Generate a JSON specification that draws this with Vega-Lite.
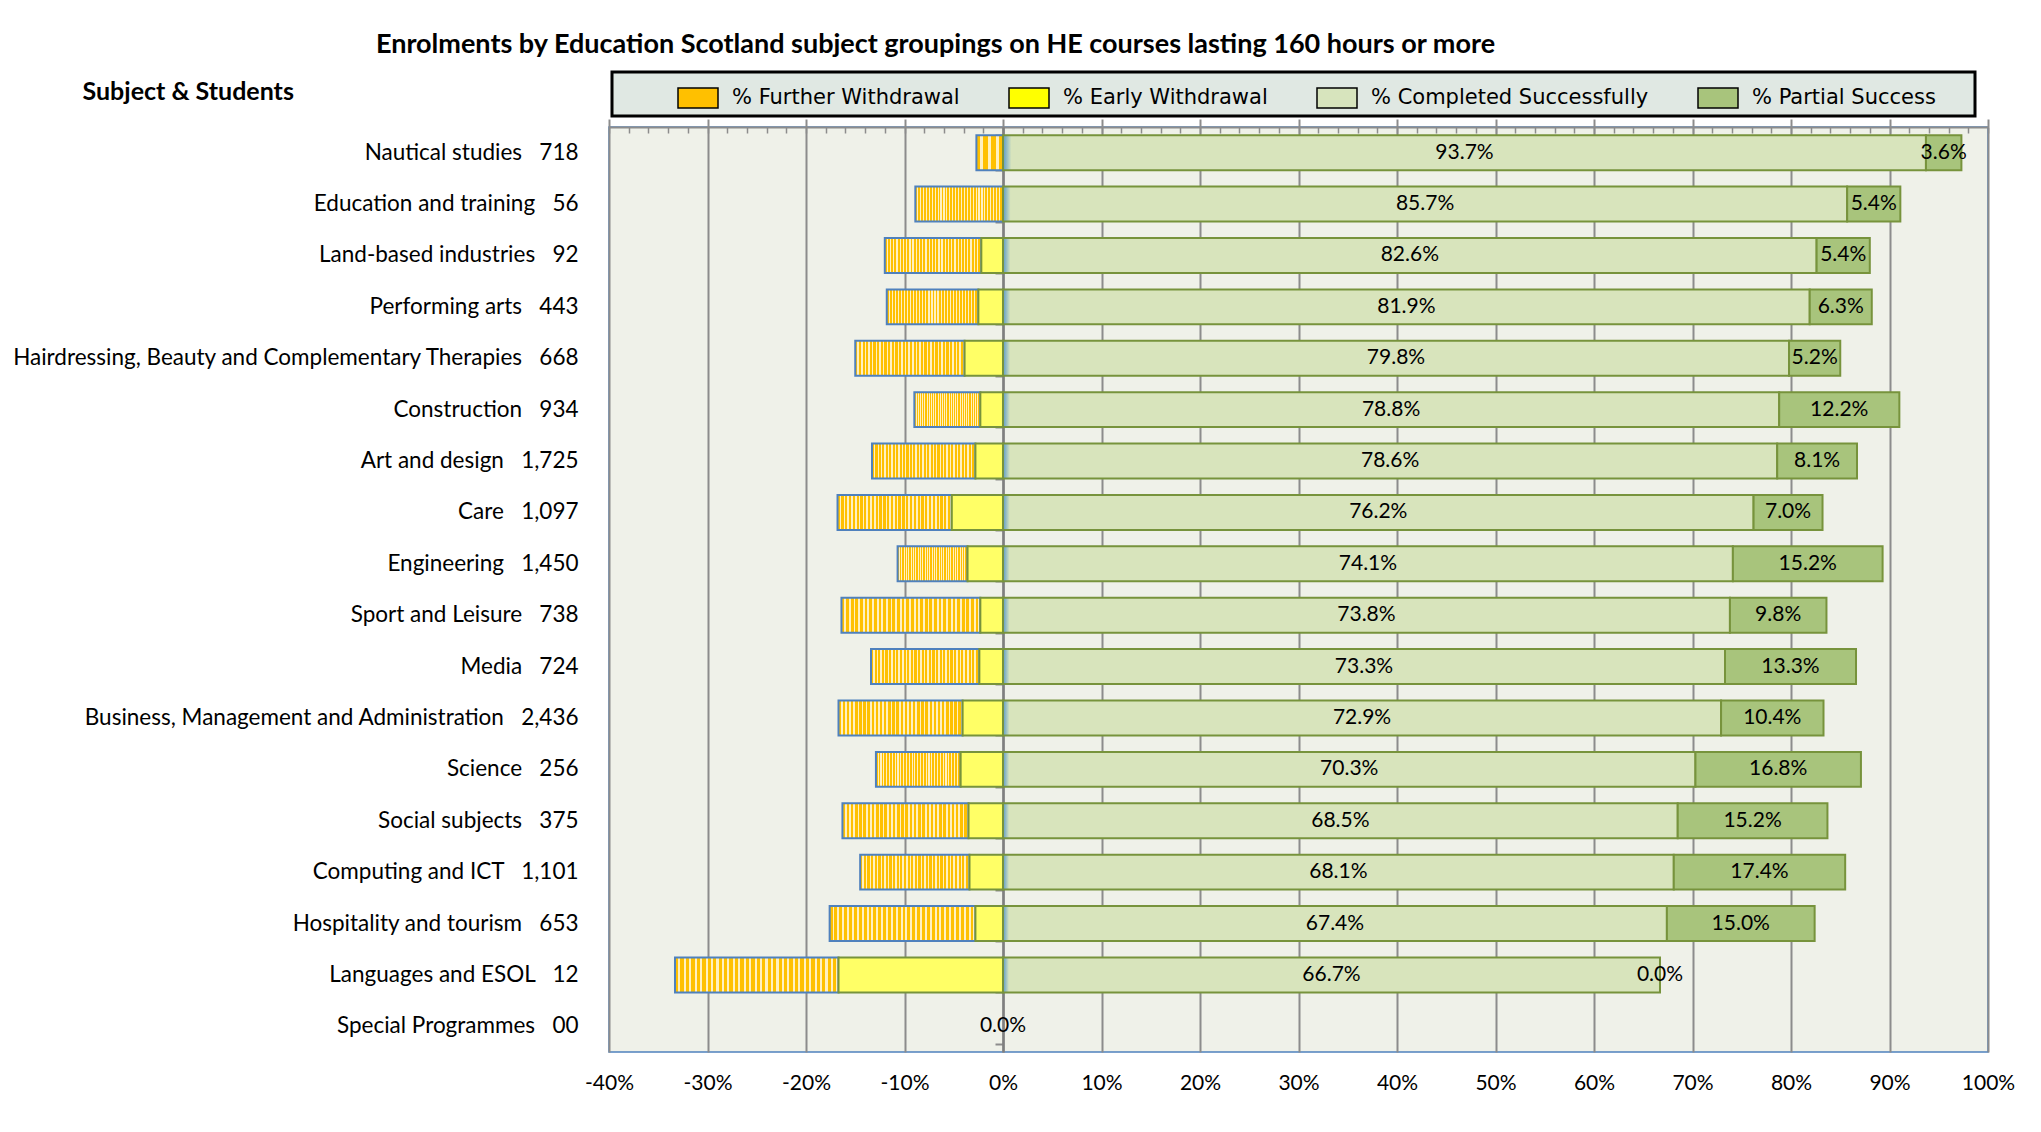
{
  "$schema": "https://vega.github.io/schema/vega-lite/v6.json",
  "autosize": "none",
  "width": 1379,
  "height": 925,
  "padding": {"left": 609, "top": 127, "right": 53, "bottom": 80},
  "background": "#ffffff",
  "config": {
    "font": "Lato",
    "view": {"fill": "#eff1e9", "stroke": "#4f81bd", "strokeWidth": 1.5},
    "legend": {"strokeWidth": 3},
    "axis": {"labelFont": "Lato", "titleFont": "Lato"}
  },
  "data": {
    "values": [
      {"s": "Nautical studies\u00a0\u00a0\u00a0718", "g": "% Further Withdrawal", "v": -2.7},
      {"s": "Nautical studies\u00a0\u00a0\u00a0718", "g": "% Completed Successfully", "v": 93.7},
      {"s": "Nautical studies\u00a0\u00a0\u00a0718", "g": "% Partial Success", "v": 3.6},
      {"s": "Education and training\u00a0\u00a0\u00a056", "g": "% Further Withdrawal", "v": -8.9},
      {"s": "Education and training\u00a0\u00a0\u00a056", "g": "% Completed Successfully", "v": 85.7},
      {"s": "Education and training\u00a0\u00a0\u00a056", "g": "% Partial Success", "v": 5.4},
      {"s": "Land-based industries\u00a0\u00a0\u00a092", "g": "% Further Withdrawal", "v": -9.8},
      {"s": "Land-based industries\u00a0\u00a0\u00a092", "g": "% Early Withdrawal", "v": -2.2},
      {"s": "Land-based industries\u00a0\u00a0\u00a092", "g": "% Completed Successfully", "v": 82.6},
      {"s": "Land-based industries\u00a0\u00a0\u00a092", "g": "% Partial Success", "v": 5.4},
      {"s": "Performing arts\u00a0\u00a0\u00a0443", "g": "% Further Withdrawal", "v": -9.3},
      {"s": "Performing arts\u00a0\u00a0\u00a0443", "g": "% Early Withdrawal", "v": -2.5},
      {"s": "Performing arts\u00a0\u00a0\u00a0443", "g": "% Completed Successfully", "v": 81.9},
      {"s": "Performing arts\u00a0\u00a0\u00a0443", "g": "% Partial Success", "v": 6.3},
      {"s": "Hairdressing, Beauty and Complementary Therapies\u00a0\u00a0\u00a0668", "g": "% Further Withdrawal", "v": -11.1},
      {"s": "Hairdressing, Beauty and Complementary Therapies\u00a0\u00a0\u00a0668", "g": "% Early Withdrawal", "v": -3.9},
      {"s": "Hairdressing, Beauty and Complementary Therapies\u00a0\u00a0\u00a0668", "g": "% Completed Successfully", "v": 79.8},
      {"s": "Hairdressing, Beauty and Complementary Therapies\u00a0\u00a0\u00a0668", "g": "% Partial Success", "v": 5.2},
      {"s": "Construction\u00a0\u00a0\u00a0934", "g": "% Further Withdrawal", "v": -6.7},
      {"s": "Construction\u00a0\u00a0\u00a0934", "g": "% Early Withdrawal", "v": -2.3},
      {"s": "Construction\u00a0\u00a0\u00a0934", "g": "% Completed Successfully", "v": 78.8},
      {"s": "Construction\u00a0\u00a0\u00a0934", "g": "% Partial Success", "v": 12.2},
      {"s": "Art and design\u00a0\u00a0\u00a01,725", "g": "% Further Withdrawal", "v": -10.5},
      {"s": "Art and design\u00a0\u00a0\u00a01,725", "g": "% Early Withdrawal", "v": -2.8},
      {"s": "Art and design\u00a0\u00a0\u00a01,725", "g": "% Completed Successfully", "v": 78.6},
      {"s": "Art and design\u00a0\u00a0\u00a01,725", "g": "% Partial Success", "v": 8.1},
      {"s": "Care\u00a0\u00a0\u00a01,097", "g": "% Further Withdrawal", "v": -11.6},
      {"s": "Care\u00a0\u00a0\u00a01,097", "g": "% Early Withdrawal", "v": -5.2},
      {"s": "Care\u00a0\u00a0\u00a01,097", "g": "% Completed Successfully", "v": 76.2},
      {"s": "Care\u00a0\u00a0\u00a01,097", "g": "% Partial Success", "v": 7.0},
      {"s": "Engineering\u00a0\u00a0\u00a01,450", "g": "% Further Withdrawal", "v": -7.1},
      {"s": "Engineering\u00a0\u00a0\u00a01,450", "g": "% Early Withdrawal", "v": -3.6},
      {"s": "Engineering\u00a0\u00a0\u00a01,450", "g": "% Completed Successfully", "v": 74.1},
      {"s": "Engineering\u00a0\u00a0\u00a01,450", "g": "% Partial Success", "v": 15.2},
      {"s": "Sport and Leisure\u00a0\u00a0\u00a0738", "g": "% Further Withdrawal", "v": -14.1},
      {"s": "Sport and Leisure\u00a0\u00a0\u00a0738", "g": "% Early Withdrawal", "v": -2.3},
      {"s": "Sport and Leisure\u00a0\u00a0\u00a0738", "g": "% Completed Successfully", "v": 73.8},
      {"s": "Sport and Leisure\u00a0\u00a0\u00a0738", "g": "% Partial Success", "v": 9.8},
      {"s": "Media\u00a0\u00a0\u00a0724", "g": "% Further Withdrawal", "v": -11.0},
      {"s": "Media\u00a0\u00a0\u00a0724", "g": "% Early Withdrawal", "v": -2.4},
      {"s": "Media\u00a0\u00a0\u00a0724", "g": "% Completed Successfully", "v": 73.3},
      {"s": "Media\u00a0\u00a0\u00a0724", "g": "% Partial Success", "v": 13.3},
      {"s": "Business, Management and Administration\u00a0\u00a0\u00a02,436", "g": "% Further Withdrawal", "v": -12.6},
      {"s": "Business, Management and Administration\u00a0\u00a0\u00a02,436", "g": "% Early Withdrawal", "v": -4.1},
      {"s": "Business, Management and Administration\u00a0\u00a0\u00a02,436", "g": "% Completed Successfully", "v": 72.9},
      {"s": "Business, Management and Administration\u00a0\u00a0\u00a02,436", "g": "% Partial Success", "v": 10.4},
      {"s": "Science\u00a0\u00a0\u00a0256", "g": "% Further Withdrawal", "v": -8.6},
      {"s": "Science\u00a0\u00a0\u00a0256", "g": "% Early Withdrawal", "v": -4.3},
      {"s": "Science\u00a0\u00a0\u00a0256", "g": "% Completed Successfully", "v": 70.3},
      {"s": "Science\u00a0\u00a0\u00a0256", "g": "% Partial Success", "v": 16.8},
      {"s": "Social subjects\u00a0\u00a0\u00a0375", "g": "% Further Withdrawal", "v": -12.8},
      {"s": "Social subjects\u00a0\u00a0\u00a0375", "g": "% Early Withdrawal", "v": -3.5},
      {"s": "Social subjects\u00a0\u00a0\u00a0375", "g": "% Completed Successfully", "v": 68.5},
      {"s": "Social subjects\u00a0\u00a0\u00a0375", "g": "% Partial Success", "v": 15.2},
      {"s": "Computing and ICT\u00a0\u00a0\u00a01,101", "g": "% Further Withdrawal", "v": -11.1},
      {"s": "Computing and ICT\u00a0\u00a0\u00a01,101", "g": "% Early Withdrawal", "v": -3.4},
      {"s": "Computing and ICT\u00a0\u00a0\u00a01,101", "g": "% Completed Successfully", "v": 68.1},
      {"s": "Computing and ICT\u00a0\u00a0\u00a01,101", "g": "% Partial Success", "v": 17.4},
      {"s": "Hospitality and tourism\u00a0\u00a0\u00a0653", "g": "% Further Withdrawal", "v": -14.8},
      {"s": "Hospitality and tourism\u00a0\u00a0\u00a0653", "g": "% Early Withdrawal", "v": -2.8},
      {"s": "Hospitality and tourism\u00a0\u00a0\u00a0653", "g": "% Completed Successfully", "v": 67.4},
      {"s": "Hospitality and tourism\u00a0\u00a0\u00a0653", "g": "% Partial Success", "v": 15.0},
      {"s": "Languages and ESOL\u00a0\u00a0\u00a012", "g": "% Further Withdrawal", "v": -16.6},
      {"s": "Languages and ESOL\u00a0\u00a0\u00a012", "g": "% Early Withdrawal", "v": -16.7},
      {"s": "Languages and ESOL\u00a0\u00a0\u00a012", "g": "% Completed Successfully", "v": 66.7},
      {"s": "Languages and ESOL\u00a0\u00a0\u00a012", "g": "% Partial Success", "v": 0.0},
      {"s": "Special Programmes\u00a0\u00a0\u00a000", "g": "% Completed Successfully", "v": 0.0}
    ]
  },
  "resolve": {"axis": {"x": "independent", "y": "independent"}},
  "layer": [
    {
      "transform": [{"filter": "datum.v !== 0"}],
      "mark": {"type": "bar", "strokeWidth": 2},
      "encoding": {
        "y": {
          "field": "s", "type": "nominal", "sort": null,
          "scale": {"paddingInner": 0.32, "paddingOuter": 0.16, "domain": [
            "Nautical studies\u00a0\u00a0\u00a0718",
            "Education and training\u00a0\u00a0\u00a056",
            "Land-based industries\u00a0\u00a0\u00a092",
            "Performing arts\u00a0\u00a0\u00a0443",
            "Hairdressing, Beauty and Complementary Therapies\u00a0\u00a0\u00a0668",
            "Construction\u00a0\u00a0\u00a0934",
            "Art and design\u00a0\u00a0\u00a01,725",
            "Care\u00a0\u00a0\u00a01,097",
            "Engineering\u00a0\u00a0\u00a01,450",
            "Sport and Leisure\u00a0\u00a0\u00a0738",
            "Media\u00a0\u00a0\u00a0724",
            "Business, Management and Administration\u00a0\u00a0\u00a02,436",
            "Science\u00a0\u00a0\u00a0256",
            "Social subjects\u00a0\u00a0\u00a0375",
            "Computing and ICT\u00a0\u00a0\u00a01,101",
            "Hospitality and tourism\u00a0\u00a0\u00a0653",
            "Languages and ESOL\u00a0\u00a0\u00a012",
            "Special Programmes\u00a0\u00a0\u00a000"
          ]},
          "axis": {
            "orient": "left", "title": "Subject & Students", "titleAngle": 0, "titleAlign": "left", "titleBaseline": "middle",
            "titleX": -527, "titleY": -36, "titleFontSize": 25, "titleFontWeight": "bold", "titleColor": "#000000",
            "labelFontSize": 22.5, "labelColor": "#000000", "labelPadding": 31, "labelLimit": 800,
            "ticks": false, "tickSize": 0, "domain": false, "grid": false
          }
        },
        "x": {
          "field": "v", "type": "quantitative", "stack": "zero",
          "scale": {"domain": [-40, 100], "nice": false, "zero": false},
          "axis": {
            "orient": "bottom", "title": null, "values": [-40, -30, -20, -10, 0, 10, 20, 30, 40, 50, 60, 70, 80, 90, 100],
            "labelExpr": "datum.value + '%'", "labelFontSize": 21, "labelColor": "#000000", "labelPadding": 20,
            "labelFlush": false, "labelOverlap": false,
            "ticks": false, "tickSize": 0, "domain": false, "grid": true, "gridColor": "#8c8c8c", "gridWidth": 2
          }
        },
        "order": {"field": "g", "type": "nominal", "sort": "ascending"},
        "fill": {
          "condition": [
            {"test": "datum.g === '% Further Withdrawal'", "value": {"gradient": "linear", "x1": 0, "x2": 1, "y1": 0, "y2": 0, "stops": [
              {"offset": 0, "color": "#ffc000"}, {"offset": 0.02, "color": "#ffc000"}, {"offset": 0.02, "color": "#fff0c0"}, {"offset": 0.0333, "color": "#fff0c0"},
              {"offset": 0.0333, "color": "#ffc000"}, {"offset": 0.0533, "color": "#ffc000"}, {"offset": 0.0533, "color": "#fff0c0"}, {"offset": 0.0667, "color": "#fff0c0"},
              {"offset": 0.0667, "color": "#ffc000"}, {"offset": 0.0867, "color": "#ffc000"}, {"offset": 0.0867, "color": "#fff0c0"}, {"offset": 0.1, "color": "#fff0c0"},
              {"offset": 0.1, "color": "#ffc000"}, {"offset": 0.12, "color": "#ffc000"}, {"offset": 0.12, "color": "#fff0c0"}, {"offset": 0.1333, "color": "#fff0c0"},
              {"offset": 0.1333, "color": "#ffc000"}, {"offset": 0.1533, "color": "#ffc000"}, {"offset": 0.1533, "color": "#fff0c0"}, {"offset": 0.1667, "color": "#fff0c0"},
              {"offset": 0.1667, "color": "#ffc000"}, {"offset": 0.1867, "color": "#ffc000"}, {"offset": 0.1867, "color": "#fff0c0"}, {"offset": 0.2, "color": "#fff0c0"},
              {"offset": 0.2, "color": "#ffc000"}, {"offset": 0.22, "color": "#ffc000"}, {"offset": 0.22, "color": "#fff0c0"}, {"offset": 0.2333, "color": "#fff0c0"},
              {"offset": 0.2333, "color": "#ffc000"}, {"offset": 0.2533, "color": "#ffc000"}, {"offset": 0.2533, "color": "#fff0c0"}, {"offset": 0.2667, "color": "#fff0c0"},
              {"offset": 0.2667, "color": "#ffc000"}, {"offset": 0.2867, "color": "#ffc000"}, {"offset": 0.2867, "color": "#fff0c0"}, {"offset": 0.3, "color": "#fff0c0"},
              {"offset": 0.3, "color": "#ffc000"}, {"offset": 0.32, "color": "#ffc000"}, {"offset": 0.32, "color": "#fff0c0"}, {"offset": 0.3333, "color": "#fff0c0"},
              {"offset": 0.3333, "color": "#ffc000"}, {"offset": 0.3533, "color": "#ffc000"}, {"offset": 0.3533, "color": "#fff0c0"}, {"offset": 0.3667, "color": "#fff0c0"},
              {"offset": 0.3667, "color": "#ffc000"}, {"offset": 0.3867, "color": "#ffc000"}, {"offset": 0.3867, "color": "#fff0c0"}, {"offset": 0.4, "color": "#fff0c0"},
              {"offset": 0.4, "color": "#ffc000"}, {"offset": 0.42, "color": "#ffc000"}, {"offset": 0.42, "color": "#fff0c0"}, {"offset": 0.4333, "color": "#fff0c0"},
              {"offset": 0.4333, "color": "#ffc000"}, {"offset": 0.4533, "color": "#ffc000"}, {"offset": 0.4533, "color": "#fff0c0"}, {"offset": 0.4667, "color": "#fff0c0"},
              {"offset": 0.4667, "color": "#ffc000"}, {"offset": 0.4867, "color": "#ffc000"}, {"offset": 0.4867, "color": "#fff0c0"}, {"offset": 0.5, "color": "#fff0c0"},
              {"offset": 0.5, "color": "#ffc000"}, {"offset": 0.52, "color": "#ffc000"}, {"offset": 0.52, "color": "#fff0c0"}, {"offset": 0.5333, "color": "#fff0c0"},
              {"offset": 0.5333, "color": "#ffc000"}, {"offset": 0.5533, "color": "#ffc000"}, {"offset": 0.5533, "color": "#fff0c0"}, {"offset": 0.5667, "color": "#fff0c0"},
              {"offset": 0.5667, "color": "#ffc000"}, {"offset": 0.5867, "color": "#ffc000"}, {"offset": 0.5867, "color": "#fff0c0"}, {"offset": 0.6, "color": "#fff0c0"},
              {"offset": 0.6, "color": "#ffc000"}, {"offset": 0.62, "color": "#ffc000"}, {"offset": 0.62, "color": "#fff0c0"}, {"offset": 0.6333, "color": "#fff0c0"},
              {"offset": 0.6333, "color": "#ffc000"}, {"offset": 0.6533, "color": "#ffc000"}, {"offset": 0.6533, "color": "#fff0c0"}, {"offset": 0.6667, "color": "#fff0c0"},
              {"offset": 0.6667, "color": "#ffc000"}, {"offset": 0.6867, "color": "#ffc000"}, {"offset": 0.6867, "color": "#fff0c0"}, {"offset": 0.7, "color": "#fff0c0"},
              {"offset": 0.7, "color": "#ffc000"}, {"offset": 0.72, "color": "#ffc000"}, {"offset": 0.72, "color": "#fff0c0"}, {"offset": 0.7333, "color": "#fff0c0"},
              {"offset": 0.7333, "color": "#ffc000"}, {"offset": 0.7533, "color": "#ffc000"}, {"offset": 0.7533, "color": "#fff0c0"}, {"offset": 0.7667, "color": "#fff0c0"},
              {"offset": 0.7667, "color": "#ffc000"}, {"offset": 0.7867, "color": "#ffc000"}, {"offset": 0.7867, "color": "#fff0c0"}, {"offset": 0.8, "color": "#fff0c0"},
              {"offset": 0.8, "color": "#ffc000"}, {"offset": 0.82, "color": "#ffc000"}, {"offset": 0.82, "color": "#fff0c0"}, {"offset": 0.8333, "color": "#fff0c0"},
              {"offset": 0.8333, "color": "#ffc000"}, {"offset": 0.8533, "color": "#ffc000"}, {"offset": 0.8533, "color": "#fff0c0"}, {"offset": 0.8667, "color": "#fff0c0"},
              {"offset": 0.8667, "color": "#ffc000"}, {"offset": 0.8867, "color": "#ffc000"}, {"offset": 0.8867, "color": "#fff0c0"}, {"offset": 0.9, "color": "#fff0c0"},
              {"offset": 0.9, "color": "#ffc000"}, {"offset": 0.92, "color": "#ffc000"}, {"offset": 0.92, "color": "#fff0c0"}, {"offset": 0.9333, "color": "#fff0c0"},
              {"offset": 0.9333, "color": "#ffc000"}, {"offset": 0.9533, "color": "#ffc000"}, {"offset": 0.9533, "color": "#fff0c0"}, {"offset": 0.9667, "color": "#fff0c0"},
              {"offset": 0.9667, "color": "#ffc000"}, {"offset": 0.9867, "color": "#ffc000"}, {"offset": 0.9867, "color": "#fff0c0"}, {"offset": 1, "color": "#fff0c0"}
            ]}},
            {"test": "datum.g === '% Early Withdrawal'", "value": "#ffff66"},
            {"test": "datum.g === '% Completed Successfully'", "value": {"gradient": "linear", "x1": 0, "x2": 1, "y1": 0, "y2": 0, "stops": [
              {"offset": 0, "color": "#5b9bc8"}, {"offset": 0.009, "color": "#d8e4bc"}, {"offset": 1, "color": "#d8e4bc"}
            ]}}
          ],
          "field": "g", "type": "nominal",
          "scale": {
            "domain": ["% Further Withdrawal", "% Early Withdrawal", "% Completed Successfully", "% Partial Success"],
            "range": ["#ffc000", "#ffff00", "#d7e4bd", "#a8c47c"]
          },
          "legend": {
            "orient": "none", "legendX": 3, "legendY": -55, "direction": "horizontal", "columns": 4,
            "title": "\u00a0", "titleOrient": "left", "titlePadding": 60, "titleFontSize": 18, "titleFont": "DejaVu Sans",
            "padding": 5, "fillColor": "#e0e8e3", "strokeColor": "#000000",
            "symbolType": "M-1,-0.5H1V0.5H-1Z", "symbolSize": 1600, "symbolStrokeColor": "#000000", "symbolStrokeWidth": 1.5, "symbolOpacity": 1,
            "labelFont": "DejaVu Sans", "labelFontSize": 21, "labelColor": "#000000", "labelOffset": 13, "labelLimit": 400,
            "columnPadding": 46,
            "labelExpr": "datum.label + (datum.value === '% Partial Success' ? '\u00a0\u00a0\u00a0\u00a0\u00a0\u200b' : '')"
          }
        },
        "stroke": {"condition": {"test": "datum.g === '% Further Withdrawal'", "value": "#4f81bd"}, "value": "#77933c"}
      }
    },
    {
      "transform": [
        {"filter": "datum.g === '% Completed Successfully' || datum.g === '% Partial Success'"},
        {"stack": "v", "groupby": ["s"], "sort": [{"field": "g", "order": "ascending"}], "as": ["v0", "v1"]},
        {"calculate": "(datum.v0 + datum.v1) / 2", "as": "mid"},
        {"calculate": "format(datum.v, '.1f') + '%'", "as": "lab"},
        {"filter": "datum.g === '% Completed Successfully'"}
      ],
      "mark": {"type": "text", "font": "Lato", "fontSize": 21, "color": "#000000", "align": "center", "baseline": "middle"},
      "encoding": {
        "y": {
          "field": "s", "type": "nominal", "sort": null,
          "axis": {
            "orient": "left", "offset": -394, "labels": false, "title": null, "ticks": true, "tickBand": "extent",
            "tickSize": 8, "tickColor": "#8c8c8c", "tickWidth": 2, "domain": true, "domainColor": "#7f7f7f", "domainWidth": 2.5, "grid": false
          }
        },
        "x": {
          "field": "mid", "type": "quantitative",
          "axis": {
            "orient": "top", "values": [-40, -30, -20, -10, 0, 10, 20, 30, 40, 50, 60, 70, 80, 90, 100],
            "labels": false, "ticks": true, "tickSize": 8, "tickColor": "#8c8c8c", "tickWidth": 2,
            "domain": true, "domainColor": "#8c8c8c", "domainWidth": 2, "grid": false,
            "title": "Enrolments by Education Scotland subject groupings on HE courses lasting 160 hours or more",
            "titleX": 326, "titleY": -83, "titleFontSize": 27, "titleFontWeight": "bold", "titleColor": "#000000",
            "titleAlign": "center", "titleBaseline": "middle", "titleAngle": 0, "titleLimit": 2000
          }
        },
        "text": {"field": "lab", "type": "nominal"}
      }
    },
    {
      "transform": [
        {"filter": "datum.g === '% Completed Successfully' || datum.g === '% Partial Success'"},
        {"stack": "v", "groupby": ["s"], "sort": [{"field": "g", "order": "ascending"}], "as": ["v0", "v1"]},
        {"calculate": "(datum.v0 + datum.v1) / 2", "as": "mid"},
        {"calculate": "format(datum.v, '.1f') + '%'", "as": "lab"},
        {"filter": "datum.g === '% Partial Success'"}
      ],
      "mark": {"type": "text", "font": "Lato", "fontSize": 21, "color": "#000000", "align": "center", "baseline": "middle"},
      "encoding": {
        "y": {"field": "s", "type": "nominal", "sort": null, "axis": null},
        "x": {
          "field": "mid", "type": "quantitative",
          "axis": {
            "orient": "top", "title": null, "labels": false, "domain": false, "grid": false,
            "values": [-40, -38, -36, -34, -32, -30, -28, -26, -24, -22, -20, -18, -16, -14, -12, -10, -8, -6, -4, -2, 0, 2, 4, 6, 8, 10, 12, 14, 16, 18, 20, 22, 24, 26, 28, 30, 32, 34, 36, 38, 40, 42, 44, 46, 48, 50, 52, 54, 56, 58, 60, 62, 64, 66, 68, 70, 72, 74, 76, 78, 80, 82, 84, 86, 88, 90, 92, 94, 96, 98, 100],
            "ticks": true, "tickSize": -6, "tickColor": "#8c8c8c", "tickWidth": 1.5
          }
        },
        "text": {"field": "lab", "type": "nominal"}
      }
    }
  ]
}
